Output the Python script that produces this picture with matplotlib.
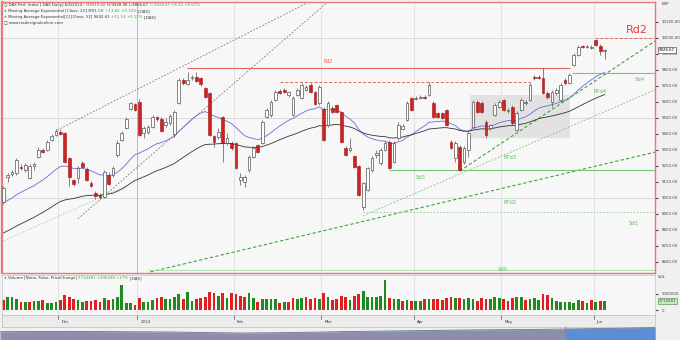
import matplotlib
matplotlib.use("Agg")
import matplotlib.pyplot as plt
from matplotlib import font_manager
import numpy as np

# daily candles, 13 Nov 2013 .. 4 Jun 2014
opens = [8975, 9131, 9150, 9156, 9194, 9175, 9125, 9200, 9256, 9300,
         9300, 9363, 9394, 9413, 9406, 9250, 9113, 9125, 9219, 9181,
         9094, 9031, 9019, 9006, 9144, 9144, 9269, 9363, 9438, 9556,
         9588, 9600, 9406, 9413, 9444, 9506, 9494, 9456, 9469, 9400,
         9594, 9738, 9713, 9750, 9756, 9750, 9688, 9656, 9388, 9381,
         9506, 9344, 9344, 9344, 9113, 9100, 9175, 9256, 9331, 9344,
         9506, 9519, 9613, 9669, 9675, 9644, 9519, 9644, 9625, 9675,
         9706, 9663, 9594, 9556, 9456, 9563, 9581, 9538, 9313, 9300,
         9263, 9200, 8944, 9050, 9175, 9269, 9219, 9300, 9350, 9225,
         9375, 9431, 9488, 9625, 9619, 9625, 9631, 9644, 9594, 9531,
         9531, 9550, 9350, 9250, 9319, 9225, 9300, 9444, 9600, 9594,
         9475, 9438, 9519, 9569, 9613, 9544, 9569, 9425, 9550, 9594,
         9613, 9756, 9756, 9750, 9656, 9600, 9656, 9613, 9738, 9719,
         9831, 9894, 9950, 9944, 9938, 9988, 9950, 9919.60]
highs = [9075, 9156, 9175, 9250, 9213, 9219, 9213, 9225, 9319, 9315,
         9363, 9400, 9431, 9431, 9413, 9256, 9119, 9200, 9231, 9194,
         9106, 9044, 9031, 9175, 9163, 9200, 9363, 9419, 9506, 9600,
         9594, 9619, 9450, 9456, 9519, 9513, 9506, 9500, 9525, 9550,
         9750, 9750, 9788, 9769, 9788, 9756, 9694, 9663, 9394, 9438,
         9513, 9406, 9356, 9350, 9156, 9144, 9269, 9325, 9338, 9488,
         9563, 9613, 9675, 9681, 9688, 9669, 9638, 9688, 9719, 9706,
         9719, 9669, 9706, 9569, 9606, 9575, 9588, 9544, 9325, 9375,
         9269, 9206, 9100, 9194, 9263, 9300, 9313, 9356, 9363, 9356,
         9475, 9463, 9606, 9631, 9638, 9644, 9644, 9725, 9606, 9538,
         9538, 9556, 9363, 9356, 9331, 9325, 9419, 9613, 9613, 9606,
         9488, 9463, 9594, 9613, 9619, 9563, 9581, 9544, 9625, 9613,
         9719, 9769, 9769, 9813, 9669, 9675, 9688, 9719, 9750, 9781,
         9906, 9956, 9956, 9956, 9956, 9994, 9963, 9928.96]
lows = [8963, 9100, 9138, 9144, 9175, 9163, 9119, 9175, 9250, 9280,
        9294, 9356, 9388, 9394, 9219, 9075, 9075, 9094, 9188, 9106,
        9069, 8994, 8994, 9000, 9081, 9131, 9256, 9356, 9431, 9550,
        9544, 9388, 9375, 9400, 9438, 9481, 9413, 9444, 9456, 9381,
        9588, 9706, 9706, 9738, 9725, 9700, 9625, 9388, 9319, 9369,
        9225, 9331, 9300, 9181, 9081, 9069, 9163, 9250, 9281, 9338,
        9500, 9506, 9606, 9650, 9656, 9631, 9513, 9638, 9619, 9669,
        9656, 9581, 9581, 9356, 9444, 9531, 9531, 9344, 9263, 9288,
        9188, 9013, 8925, 9044, 9163, 9250, 9206, 9294, 9181, 9219,
        9363, 9425, 9481, 9544, 9613, 9619, 9619, 9638, 9500, 9500,
        9494, 9450, 9306, 9225, 9169, 9213, 9256, 9438, 9531, 9531,
        9375, 9425, 9513, 9563, 9544, 9531, 9456, 9419, 9544, 9581,
        9606, 9738, 9744, 9650, 9619, 9569, 9644, 9600, 9706, 9713,
        9825, 9888, 9938, 9938, 9931, 9950, 9894, 9866.67]
closes = [9063, 9144, 9163, 9238, 9190, 9206, 9200, 9213, 9300, 9290,
          9350, 9388, 9419, 9400, 9225, 9131, 9088, 9188, 9194, 9113,
          9075, 9013, 9006, 9163, 9088, 9188, 9344, 9406, 9494, 9594,
          9550, 9394, 9438, 9444, 9506, 9494, 9419, 9475, 9513, 9538,
          9738, 9719, 9738, 9756, 9731, 9713, 9631, 9394, 9350, 9413,
          9344, 9375, 9313, 9188, 9131, 9131, 9256, 9313, 9288, 9475,
          9550, 9600, 9663, 9656, 9663, 9663, 9625, 9675, 9706, 9694,
          9663, 9588, 9694, 9363, 9594, 9538, 9538, 9350, 9269, 9313,
          9194, 9019, 9094, 9188, 9250, 9281, 9300, 9344, 9188, 9344,
          9456, 9450, 9594, 9550, 9625, 9631, 9628, 9706, 9506, 9506,
          9500, 9456, 9313, 9344, 9175, 9313, 9406, 9600, 9538, 9538,
          9394, 9456, 9581, 9600, 9550, 9550, 9469, 9531, 9613, 9600,
          9706, 9750, 9753, 9656, 9631, 9663, 9675, 9706, 9719, 9769,
          9894, 9944, 9944, 9950, 9944, 9956, 9919.74, 9926.67]
volume_m = [3.1, 3.9, 4.1, 3.3, 2.6, 2.6, 2.6, 2.8, 2.9, 3.1,
            2.3, 2.2, 2.6, 3.1, 4.6, 4.1, 3.4, 3.1, 2.6, 2.8,
            2.8, 3.1, 2.4, 3.6, 3.1, 3.4, 4.1, 7.5, 2.2, 2.2,
            1.5, 3.6, 2.4, 2.4, 3.1, 3.6, 3.9, 3.3, 3.4, 4.1,
            4.9, 3.4, 5.6, 2.9, 3.4, 3.8, 4.1, 5.4, 5.1, 4.3,
            5.1, 3.6, 5.1, 4.8, 4.3, 4.1, 5.1, 3.8, 2.6, 3.4,
            3.4, 3.4, 3.4, 2.2, 2.6, 2.6, 3.8, 3.3, 3.6, 3.9,
            3.4, 3.8, 3.4, 5.1, 4.1, 3.1, 3.4, 4.3, 3.9, 3.1,
            4.3, 4.8, 5.9, 4.1, 4.1, 4.1, 4.3, 9.0, 3.6, 3.3,
            3.3, 2.9, 3.1, 2.9, 2.9, 2.9, 3.3, 3.3, 3.4, 3.4,
            3.1, 3.6, 3.9, 3.6, 3.6, 3.3, 3.8, 3.3, 2.9, 3.8,
            3.3, 3.3, 3.9, 3.8, 3.3, 2.9, 3.6, 3.9, 4.1, 3.1,
            3.3, 3.8, 3.1, 4.9, 4.6, 3.6, 2.9, 2.6, 2.6, 2.4,
            2.2, 3.1, 2.8, 2.2, 3.1, 2.4, 2.8, 2.714381]

month_labels = ["Dec", "2014", "Feb", "Mar", "Apr", "May", "Jun"]
month_index = [13, 31, 53, 73, 94, 114, 135]

ema_fast_len, ema_slow_len = 22, 52
ema_fast_seed, ema_slow_seed = 8969, 8781

# drawing tool objects: (x0, y0, x1, y1) in bar index / price
gray_trend_1 = (12.3, 9425, 75, 10300)
gray_trend_2 = (17, 8870, 80, 10370)
green_dot_trend = (-1, 8719, 28, 9075)
rtd2_line = (33.5, 8538, 149, 9290)
rtd3_line = (82, 8889, 149, 9681)
rtd4_line = (104, 9169, 149, 9990)
rd2_level = (41.9, 129.2, 9813)
red_dash_level = (63, 120.5, 9725)
rd_top_level = (134.9, 149, 10000)
sd4_level = (129.6, 149, 9781)
sd3_level = (88, 149, 9175)
sd1_level = (82, 149, 8913)
sd0_level = (33, 149, 8550)
box_x = (106.4, 129.2)
box_y = (9375, 9644)

green_labels = [("Sd4", 145, 9738), ("RTd4", 136, 9663), ("RTd3", 115.5, 9250),
                ("Sd3", 95, 9131), ("RTd2", 115.5, 8969), ("Sd1", 143.7, 8838),
                ("Sd0", 113.7, 8550)]

nav_vals = [8.3, 8.5, 8.6, 8.4, 8.2, 8.0, 7.4, 7.0, 7.3, 7.8, 8.4, 8.9,
            9.3, 9.8, 10.2, 10.4, 10.8, 11.3, 11.8, 12.4]

# small condensed font like the terminal's
installed = {f.name for f in font_manager.fontManager.ttflist}
if "Liberation Sans Narrow" in installed:
    FONT = ["Liberation Sans Narrow", "DejaVu Sans"]
    FS = 3.6
else:
    FONT = ["DejaVu Sans"]
    FS = 2.8
plt.rcParams["font.family"] = FONT

W, H = 680, 340
def fx(px):
    return px / W
def fy(py):
    return 1 - py / H

fig = plt.figure(figsize=(6.8, 3.4), dpi=100, facecolor="#f0f0f0")

n = len(closes)
idx = np.arange(n)
o = np.array(opens); c = np.array(closes)
hi = np.array(highs); lo = np.array(lows)
up = c >= o

xmin, xmax = -0.3, 148.5

ax = fig.add_axes([fx(2), fy(273), fx(653), 271 / H])
ax.set_facecolor("#f7f7f7")
ax.set_xlim(xmin, xmax)
ax.set_ylim(8531, 10225)

for p in [9000, 9500, 10000]:
    ax.axhline(p, color="#d4d4d4", lw=0.6, zorder=0)
for k, m in zip(month_labels, month_index):
    ax.axvline(m - 0.5, color="#b0b0b0" if k == "2014" else "#dddddd", lw=0.6, zorder=0)

ax.add_patch(plt.Rectangle((box_x[0], box_y[0]), box_x[1] - box_x[0], box_y[1] - box_y[0],
                           color="#e2e2e2", zorder=0.5, lw=0))

def seg(t, **kw):
    ax.plot([t[0], t[2]], [t[1], t[3]], **kw)

seg(gray_trend_1, color="#777777", ls=(0, (2, 2)), lw=0.6)
seg(gray_trend_2, color="#777777", ls=(0, (2, 2)), lw=0.6)
seg(green_dot_trend, color="#8fd08f", ls=(0, (1.5, 2)), lw=0.6)
seg(rtd2_line, color="#3aa83a", ls=(0, (3, 2)), lw=0.8)
seg(rtd3_line, color="#6cc46c", ls=(0, (2, 2)), lw=0.6)
seg(rtd4_line, color="#3aa83a", ls=(0, (3, 2)), lw=0.8)

ax.hlines(rd2_level[2], rd2_level[0], rd2_level[1], color="#e06666", lw=0.8)
ax.hlines(red_dash_level[2], red_dash_level[0], red_dash_level[1], color="#e06666", lw=0.7, ls=(0, (3, 2)))
ax.hlines(rd_top_level[2], rd_top_level[0], rd_top_level[1], color="#e06666", lw=0.7, ls=(0, (3, 2)))
ax.hlines(sd4_level[2], sd4_level[0], sd4_level[1], color="#7cc47c", lw=0.8)
ax.hlines(sd3_level[2], sd3_level[0], sd3_level[1], color="#7cc47c", lw=0.8)
ax.hlines(sd1_level[2], sd1_level[0], sd1_level[1], color="#8fcf8f", lw=0.6, ls=(0, (2, 2)))
ax.hlines(sd0_level[2], sd0_level[0], sd0_level[1], color="#a6dca6", lw=0.6)

# EMAs
def ema(vals, n_len, seed):
    a = 2.0 / (n_len + 1)
    out = [seed]
    for v in vals[1:]:
        out.append(out[-1] + a * (v - out[-1]))
    return np.array(out)

ax.plot(idx, ema(closes, ema_fast_len, ema_fast_seed), color="#6a6ad8", lw=0.6, zorder=2)
ax.plot(idx, ema(closes, ema_slow_len, ema_slow_seed), color="#333333", lw=0.6, zorder=2)

# candles
ax.vlines(idx, lo, hi, color="#555555", lw=0.5, zorder=3)
body_lo = np.minimum(o, c)
body_h = np.maximum(np.abs(c - o), 4)
ax.bar(idx[up], body_h[up], bottom=body_lo[up], width=0.62, color="white",
       edgecolor="#555555", linewidth=0.5, zorder=4)
ax.bar(idx[~up], body_h[~up], bottom=body_lo[~up], width=0.62, color="#d21f1f",
       edgecolor="#9a1414", linewidth=0.4, zorder=4)

ax.text(74, 9850, "Rd2", color="#e05050", fontsize=FS + 0.6, ha="center", va="center")
ax.text(144.4, 10050, "Rd2", color="#e04040", fontsize=8, ha="center", va="center")
for t, xi, yi in green_labels:
    ax.text(xi, yi, t, color="#5cbf5c", fontsize=FS + 1, ha="center", va="center")

ax.yaxis.tick_right()
ax.set_yticks(np.arange(8600, 10101, 100))
ax.set_yticklabels(["%.2f" % v for v in np.arange(8600, 10101, 100)])
ax.tick_params(axis="y", labelsize=FS, length=2, pad=2.5, colors="#444444")
ax.set_xticks([])
for s in ax.spines.values():
    s.set_color("#e87878")
    s.set_linewidth(1.0)
ax.spines["left"].set_linewidth(1.6)

ax.text(1.006, closes[-1], "9926.67", transform=ax.get_yaxis_transform(), fontsize=FS,
        va="center", ha="left", zorder=10,
        bbox=dict(boxstyle="square,pad=0.25", fc="white", ec="#555555", lw=0.5))
fig.text(fx(662), fy(4), "EXP", fontsize=FS, va="center", color="#333333")

# header
renderer = fig.canvas.get_renderer()
def chain(px, py, parts, size=FS):
    x = fx(px)
    for s, col in parts:
        t = fig.text(x, fy(py), s, fontsize=size, color=col, va="center", ha="left")
        bb = t.get_window_extent(renderer)
        x += bb.width / W

chain(4, 5, [("\u25cb DAX Perf. Index [.DAX Daily] 6/4/2014 \u00b7 ", "#333333"),
             ("O:9919.60", "#d03030"),
             (" H:9928.96 L:9866.67 ", "#333333"),
             ("C:9926.67 +6.93 +0.07%", "#3aa83a")])
chain(4, 11, [("\u2227 Moving Average Exponential [Close, 22] ", "#333333"),
              ("9781.59", "#3b3bd0"), (" +13.82 +0.14% ", "#3aa83a"), ("[.DAX]", "#333333")])
chain(4, 17, [("\u2227 Moving Average Exponential[2] [Close, 52] 9642.61 ", "#333333"),
              ("+11.14 +0.12% ", "#3aa83a"), ("[.DAX]", "#333333")])
chain(4, 23, [("\u25a1 www.tradesignalonline.com", "#333333")])

# volume panel
axv = fig.add_axes([fx(2), fy(315), fx(653), 40 / H])
axv.set_facecolor("#f7f7f7")
axv.set_xlim(xmin, xmax)
axv.set_ylim(-1.47, 10.6)
prev = np.concatenate([[closes[0] + 10], c[:-1]])
vcol = np.where(c > prev, "#1f8a1f", "#e02020")
axv.bar(idx, volume_m, width=0.62, color=vcol, lw=0)
for m in month_index:
    axv.axvline(m - 0.5, color="#dddddd", lw=0.6, zorder=0)
axv.yaxis.tick_right()
axv.set_yticks([0, 5])
axv.set_yticklabels(["0", "5000000"])
axv.tick_params(axis="y", labelsize=FS, length=2, pad=2.5, colors="#444444")
axv.set_xticks([])
for s in axv.spines.values():
    s.set_color("#cccccc")
    s.set_linewidth(0.6)
axv.text(1.006, volume_m[-1], "2714381", transform=axv.get_yaxis_transform(), fontsize=FS,
         va="center", ha="left", color="#1f6f1f",
         bbox=dict(boxstyle="square,pad=0.2", fc="#c8e8c0", ec="#5a9a5a", lw=0.5))
fig.text(fx(658), fy(277), "VOL", fontsize=FS, va="center", color="#333333")
chain(4, 278, [("\u2227 Volume [None, False, PriceChange] ", "#333333"),
               ("2714381 +396348 +17% ", "#3aa83a"), ("[.DAX]", "#333333")])

# date band
axd = fig.add_axes([fx(2), fy(327), fx(653), 12 / H])
axd.set_facecolor("#ececec")
axd.set_xlim(xmin, xmax)
axd.set_ylim(0, 1)
axd.set_xticks([])
axd.set_yticks([])
for k, m in zip(month_labels, month_index):
    axd.plot([m - 0.5, m - 0.5], [0.7, 1], color="#555555", lw=0.5)
    axd.text(m + 0.2, 0.45, k, fontsize=FS, va="center", ha="left", color="#333333")
for s in axd.spines.values():
    s.set_color("#bbbbbb")
    s.set_linewidth(0.5)

# navigator
axn = fig.add_axes([0, 0, fx(655), 13 / H])
axn.set_facecolor("#e4e4e4")
nx = np.linspace(0, 1, len(nav_vals))
nv = np.array(nav_vals)
axn.fill_between(nx, 0, nv, color="#8c8fab", lw=0)
axn.plot(nx, nv, color="#6d7090", lw=0.6)
sx = np.linspace(0.863, 1, 30)
axn.fill_between(sx, 0, np.interp(sx, nx, nv), color="#5a8fd8", lw=0)
axn.axvline(0.863, color="#8a8a8a", lw=0.8)
axn.set_xlim(0, 1)
axn.set_ylim(0, 13)
axn.axis("off")

fig.savefig("out.png", dpi=100, facecolor=fig.get_facecolor())
